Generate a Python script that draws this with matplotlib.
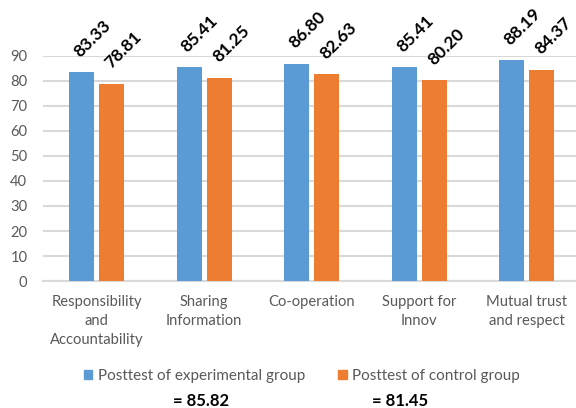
import numpy as np
import matplotlib.pyplot as plt
from matplotlib.patches import Patch

plt.rcParams['font.family'] = ['Lato', 'DejaVu Sans']

categories = ['Responsibility\nand\nAccountability', 'Sharing\nInformation',
              'Co-operation', 'Support for\nInnov', 'Mutual trust\nand respect']
experimental = [83.33, 85.41, 86.80, 85.41, 88.19]
control = [78.81, 81.25, 82.63, 80.20, 84.37]
series_names = ['Posttest of experimental group', 'Posttest of control group']
means = [85.82, 81.45]

blue = '#5B9BD5'
orange = '#ED7D31'
grey = '#595959'

fig = plt.figure(figsize=(5.76, 4.08), dpi=100)
ax = fig.add_axes([0.0741, 0.311, 0.934, 0.5525])

x = np.arange(len(categories))
w = 0.232
off = 0.139
b1 = ax.bar(x - off, experimental, w, color=blue, zorder=3)
b2 = ax.bar(x + off, control, w, color=orange, zorder=3)

# value labels, tilted 45 degrees, starting just above each bar
for bars, vals, dx in ((b1, experimental, -1.0), (b2, control, 0.0)):
    for rect, v in zip(bars, vals):
        ax.annotate(f'{v:.2f}', (rect.get_x() + rect.get_width() / 2, v),
                    xytext=(dx, 10.5), textcoords='offset points',
                    ha='left', va='baseline', rotation=45,
                    rotation_mode='anchor',
                    fontsize=12.5, fontweight='bold', color='black',
                    annotation_clip=False)

ax.set_xlim(-0.5, len(categories) - 0.5)
ax.set_ylim(0, 90)
ax.set_yticks(range(0, 91, 10))
ax.yaxis.grid(True, color='#d9d9d9', linewidth=1.5, zorder=0)
ax.set_axisbelow(True)
for s in ('top', 'right', 'left'):
    ax.spines[s].set_visible(False)
ax.spines['bottom'].set_color('#d9d9d9')
ax.spines['bottom'].set_linewidth(1.5)
ax.tick_params(length=0, labelsize=10.6, colors=grey)
ax.set_xticks(x)
ax.set_xticklabels(categories, linespacing=1.45)
ax.tick_params(axis='x', pad=10)
ax.tick_params(axis='y', pad=11)

handles = [Patch(color=blue), Patch(color=orange)]
fig.legend(handles, series_names, loc='center', bbox_to_anchor=(0.524, 0.078),
           ncol=2, frameon=False, fontsize=11, handlelength=0.55,
           handleheight=0.55, handletextpad=0.35, columnspacing=2.2,
           labelcolor=grey)

for xpos, m in zip((0.349, 0.694), means):
    fig.text(xpos, 0.016, f'= {m:.2f}', ha='center', va='center',
             fontsize=12, fontweight='bold', color='black')

fig.savefig('out.png', dpi=100)
